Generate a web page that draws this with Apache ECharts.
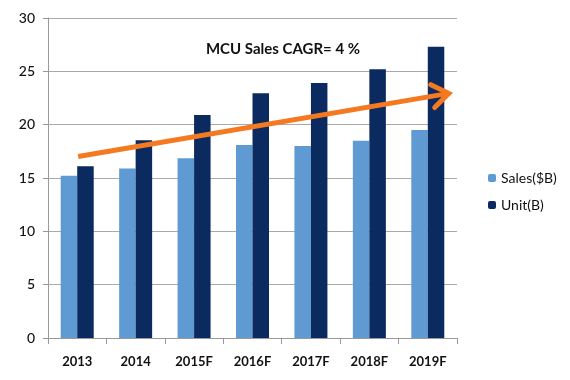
<!DOCTYPE html>
<html><head><meta charset="utf-8">
<script src="https://cdn.jsdelivr.net/npm/echarts@6/dist/echarts.min.js"></script>
<style>html,body{margin:0;padding:0;background:#fff}#c{width:570px;height:380px}</style>
</head><body><div id="c"></div>
<script>
const categories = ['2013','2014','2015F','2016F','2017F','2018F','2019F'];
const salesValues = [15.2, 15.9, 16.85, 18.1, 18.0, 18.5, 19.5];
const unitValues = [16.1, 18.55, 20.9, 22.95, 23.9, 25.2, 27.3];
const yTicks = [0, 5, 10, 15, 20, 25, 30];
const titleText = 'MCU Sales CAGR= 4 %';
const arrowFrom = ['2013', 17.0];
const arrowTo = ['2019F', 22.6];

const chart = echarts.init(document.getElementById('c'));
const font = 'Lato, "Open Sans", sans-serif';
chart.setOption({
  animation: false,
  backgroundColor: '#fff',
  title: { text: titleText, left: 278, top: 37, textAlign: 'center',
    textStyle: { fontFamily: font, fontSize: 15, fontWeight: 'bold', color: '#111' } },
  grid: { left: 48, right: 113, top: 18, bottom: 42 },
  legend: {
    orient: 'vertical', left: 483, top: 166, itemWidth: 8, itemHeight: 8, itemGap: 13,
    textStyle: { fontFamily: font, fontSize: 14, color: '#111' },
    data: ['Sales($B)', 'Unit(B)']
  },
  xAxis: {
    type: 'category', data: categories,
    axisLine: { lineStyle: { color: '#999' } },
    axisTick: { show: true, length: 6, lineStyle: { color: '#999' } },
    axisLabel: { margin: 17, fontFamily: font, fontSize: 13, fontWeight: 'bold', color: '#111' }
  },
  yAxis: {
    type: 'value', min: yTicks[0], max: yTicks[yTicks.length-1], interval: 5,
    axisLine: { show: true, lineStyle: { color: '#999' } },
    axisTick: { show: true, length: 5, lineStyle: { color: '#999' } },
    axisLabel: { margin: 13, fontFamily: font, fontSize: 14, fontWeight: 500, color: '#111' },
    splitLine: { lineStyle: { color: '#aaa' } }
  },
  series: [
    { name: 'Sales($B)', type: 'bar', data: salesValues, barWidth: 16.5, barGap: '0%',
      itemStyle: { color: '#5f9bd2' } },
    { name: 'Unit(B)', type: 'bar', data: unitValues, barWidth: 16.5,
      itemStyle: { color: '#0a2a60' } }
  ]
});

// orange trend arrow, positioned through the chart's own scales
const p0 = chart.convertToPixel({ gridIndex: 0 }, arrowFrom);
const p1 = chart.convertToPixel({ gridIndex: 0 }, arrowTo);
const dx = p1[0] - p0[0], dy = p1[1] - p0[1];
const x0 = p0[0] + 1, y0 = p0[1] + dy * 1 / dx;
const x1 = p1[0] + 21, y1 = p0[1] + dy * (x1 - p0[0]) / dx;
const ang = Math.atan2(y1 - y0, x1 - x0);
const L = 20, spread = 0.62;
const h1 = [x1 - L * Math.cos(ang - spread), y1 - L * Math.sin(ang - spread)];
const h2 = [x1 - L * Math.cos(ang + spread), y1 - L * Math.sin(ang + spread)];
chart.setOption({
  graphic: [
    { type: 'line', shape: { x1: x0, y1: y0, x2: x1 - 3 * Math.cos(ang), y2: y1 - 3 * Math.sin(ang) },
      style: { stroke: '#f47920', lineWidth: 5 }, z: 100 },
    { type: 'polyline', shape: { points: [h1, [x1, y1], h2] },
      style: { stroke: '#f47920', lineWidth: 5, fill: null, lineJoin: 'miter', lineCap: 'round' }, z: 100 }
  ]
});
</script></body></html>
